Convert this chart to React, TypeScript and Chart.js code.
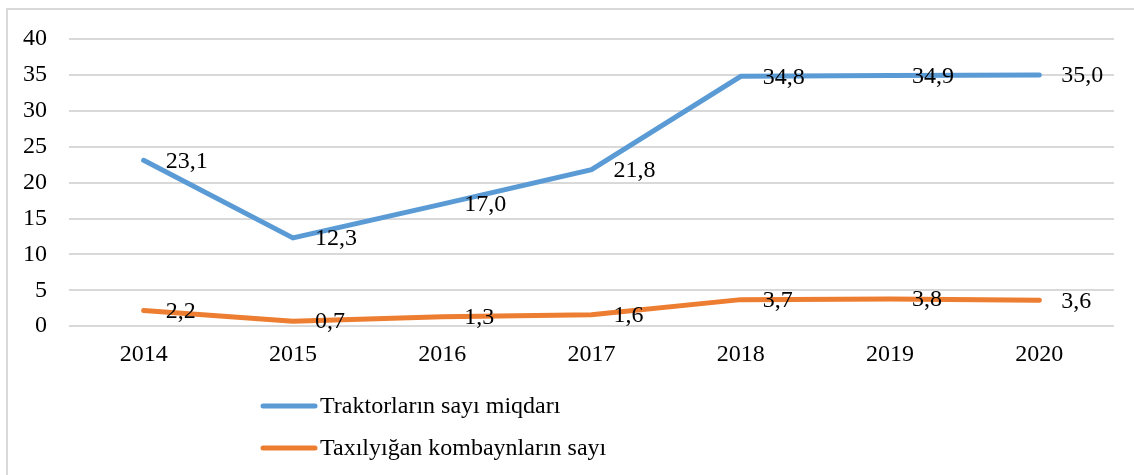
import React, { useEffect, useRef } from "react";
import { Chart, registerables } from "chart.js";

Chart.register(...registerables);

const categories = ["2014", "2015", "2016", "2017", "2018", "2019", "2020"];
const tractors = [23.1, 12.3, 17.0, 21.8, 34.8, 34.9, 35.0];
const combines = [2.2, 0.7, 1.3, 1.6, 3.7, 3.8, 3.6];
const seriesNames = ["Traktorların sayı miqdarı", "Taxılyığan kombaynların sayı"];
const seriesColors = ["#5B9BD5", "#ED7D31"];

const FONT = "'Liberation Serif', 'Times New Roman', serif";

const framePlugin = {
  id: "frame",
  beforeDraw(chart: any) {
    const ctx = chart.ctx;
    ctx.save();
    ctx.fillStyle = "#ffffff";
    ctx.fillRect(0, 0, chart.width, chart.height);
    ctx.strokeStyle = "#d9d9d9";
    ctx.lineWidth = 2;
    ctx.beginPath();
    ctx.moveTo(7, chart.height + 2);
    ctx.lineTo(7, 9);
    ctx.lineTo(chart.width + 2, 9);
    ctx.stroke();
    ctx.restore();
  },
};

const labelsPlugin = {
  id: "valueLabels",
  afterDatasetsDraw(chart: any) {
    const ctx = chart.ctx;
    ctx.save();
    ctx.font = `24px ${FONT}`;
    ctx.fillStyle = "#000000";
    ctx.textAlign = "left";
    ctx.textBaseline = "middle";
    chart.data.datasets.forEach((ds: any, di: number) => {
      const meta = chart.getDatasetMeta(di);
      meta.data.forEach((pt: any, i: number) => {
        const v = ds.data[i] as number;
        ctx.fillText(v.toFixed(1).replace(".", ","), pt.x + 22, pt.y + 1);
      });
    });
    ctx.restore();
  },
};

const legendPlugin = {
  id: "customLegend",
  afterDraw(chart: any) {
    const ctx = chart.ctx;
    ctx.save();
    const rows = [406, 448];
    chart.data.datasets.forEach((ds: any, di: number) => {
      const y = rows[di];
      ctx.strokeStyle = ds.borderColor;
      ctx.lineWidth = 5;
      ctx.lineCap = "round";
      ctx.beginPath();
      ctx.moveTo(263, y);
      ctx.lineTo(315, y);
      ctx.stroke();
      ctx.font = `24px ${FONT}`;
      ctx.fillStyle = "#000000";
      ctx.textAlign = "left";
      ctx.textBaseline = "middle";
      ctx.fillText(ds.label, 320, y + 1);
    });
    ctx.restore();
  },
};

export default function App() {
  const ref = useRef<HTMLCanvasElement | null>(null);
  useEffect(() => {
    if (!ref.current) return;
    const chart = new Chart(ref.current, {
      type: "line",
      data: {
        labels: categories,
        datasets: [
          {
            label: seriesNames[0],
            data: tractors,
            borderColor: seriesColors[0],
            backgroundColor: seriesColors[0],
            borderWidth: 5,
            borderCapStyle: "round",
            pointRadius: 0,
            tension: 0,
          },
          {
            label: seriesNames[1],
            data: combines,
            borderColor: seriesColors[1],
            backgroundColor: seriesColors[1],
            borderWidth: 5,
            borderCapStyle: "round",
            pointRadius: 0,
            tension: 0,
          },
        ],
      },
      options: {
        animation: false,
        responsive: false,
        maintainAspectRatio: false,
        layout: { padding: { left: 0, right: 20, top: 39, bottom: 92 } },
        plugins: {
          legend: { display: false },
          tooltip: { enabled: false },
        },
        scales: {
          x: {
            offset: true,
            grid: { display: false, drawTicks: false },
            border: { display: false },
            ticks: {
              color: "#000000",
              font: { family: FONT, size: 24 },
              padding: 14,
              maxRotation: 0,
            },
          },
          y: {
            min: 0,
            max: 40,
            afterFit: (s: any) => {
              s.width = 69;
            },
            grid: { color: "#d9d9d9", lineWidth: 2, drawTicks: false },
            border: { display: false },
            ticks: {
              stepSize: 5,
              color: "#000000",
              font: { family: FONT, size: 24 },
              padding: 22,
            },
          },
        },
      },
      plugins: [framePlugin, labelsPlugin, legendPlugin],
    });
    return () => chart.destroy();
  }, []);
  return (
    <div style={{ position: "fixed", left: 0, top: 0, width: 1134, height: 475, background: "#fff" }}>
      <canvas ref={ref} width={1134} height={475} style={{ display: "block" }} />
    </div>
  );
}
